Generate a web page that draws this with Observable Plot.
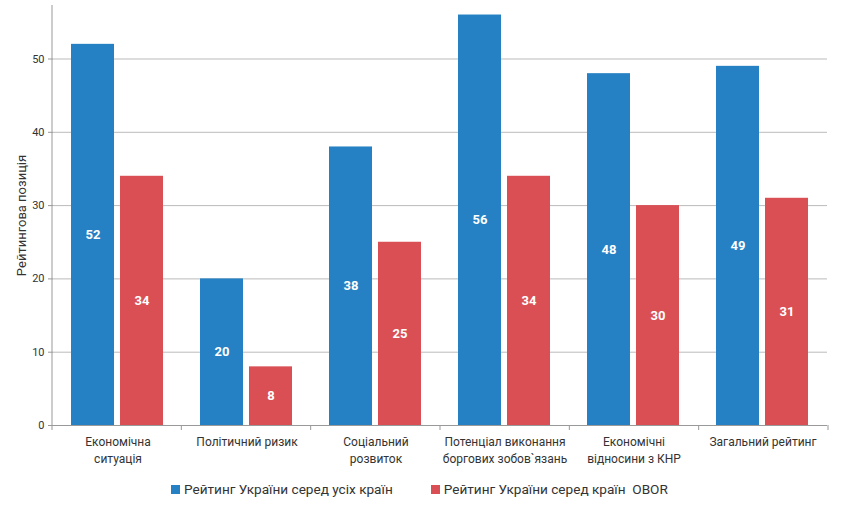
<!DOCTYPE html>
<html><head><meta charset="utf-8">
<script src="https://cdn.jsdelivr.net/npm/d3@7"></script>
<script src="https://cdn.jsdelivr.net/npm/@observablehq/plot@0.6"></script>
<style>
body{margin:0;background:#fff;font-family:Roboto,"Noto Sans",sans-serif;}
#legend{display:flex;gap:0;justify-content:flex-start;padding-left:171px;font-size:13.6px;color:#333;margin-top:11px;font-weight:400;}
.item{display:flex;align-items:center;}
.sw{width:9px;height:9px;margin-right:4px;}
</style></head>
<body>
<div id="chart"></div>
<div id="legend"></div>
<script>
const categories = ["Економічна\nситуація","Політичний ризик","Соціальний\nрозвиток","Потенціал виконання\nборгових зобов`язань","Економічні\nвідносини з КНР","Загальний рейтинг"];
const series = ["Рейтинг України серед усіх країн","Рейтинг України серед країн  OBOR"];
const allCountries = [52,20,38,56,48,49];
const oborCountries = [34,8,25,34,30,31];
const colors = ["#2581c4","#d94f54"];
const yTicks = [0,10,20,30,40,50];

const data = [];
categories.forEach((c,i)=>{
  data.push({cat:c, s:series[0], v:allCountries[i]});
  data.push({cat:c, s:series[1], v:oborCountries[i]});
});

const W=850, H=470, mL=52, mR=22, mT=5, mB=45;
const plot = Plot.plot({
  width:W, height:H, marginLeft:mL, marginRight:mR, marginTop:mT, marginBottom:mB,
  style:{fontFamily:"Roboto, 'Noto Sans', sans-serif", fontSize:"12px", color:"#333"},
  fx:{domain:categories, padding:0, label:null, axis:null},
  x:{domain:series, paddingInner:0.122, paddingOuter:0.377, axis:null},
  y:{domain:[0,57.3], ticks:yTicks},
  color:{domain:series, range:colors},
  marks:[
    Plot.gridY(yTicks,{stroke:"#bbb", strokeOpacity:1}),
    Plot.axisY(yTicks,{tickSize:5, tickPadding:4, stroke:"#999", fill:"#333", fontSize:11, label:"Рейтингова позиція", labelAnchor:"center", labelOffset:37, labelArrow:"none"}),
    Plot.axisFx({anchor:"bottom", tickSize:0, tickPadding:9, fontSize:12, fill:"#333", label:null, lineHeight:1.4}),
    Plot.barY(data,{fx:"cat", x:"s", y:"v", fill:"s"}),
    Plot.text(data,{fx:"cat", x:"s", y:d=>d.v/2, text:d=>String(d.v), fill:"white", fontWeight:"bold", fontSize:13}),
    Plot.ruleY([0],{stroke:"#999"})
  ]
});
document.getElementById("chart").appendChild(plot);

// y-axis title font size
d3.select(plot).selectAll("g[aria-label='y-axis label'] text").style("font-size","13px");

// axis decorations: left axis line and group boundary ticks
const svg = d3.select(plot);
const fs = plot.scale("fx"), ys = plot.scale("y");
const band = d3.scaleBand().domain(fs.domain).range(fs.range).paddingInner(fs.paddingInner||0).paddingOuter(fs.paddingOuter||0).align(fs.align??0.5);
const yb = d3.scaleLinear().domain(ys.domain).range(ys.range);
const y0 = yb(0);
const bounds = [];
fs.domain.forEach(c=>{bounds.push(band(c)); });
bounds.push(band(fs.domain[fs.domain.length-1])+band.bandwidth());
const g = svg.append("g").attr("stroke","#999");
g.selectAll("line.tk").data(bounds).join("line")
  .attr("x1",d=>d).attr("x2",d=>d).attr("y1",y0).attr("y2",y0+5);
g.append("line").attr("x1",bounds[0]).attr("x2",bounds[0]).attr("y1",yb(ys.domain[1])).attr("y2",y0);

// legend
const lg = document.getElementById("legend");
series.forEach((s,i)=>{
  const it=document.createElement("div"); it.className="item";
  if(i===1) it.style.marginLeft="38px";
  const sw=document.createElement("div"); sw.className="sw"; sw.style.background=colors[i];
  const t=document.createElement("span"); t.textContent=s; t.style.whiteSpace="pre";
  it.appendChild(sw); it.appendChild(t); lg.appendChild(it);
});
</script>
</body></html>
